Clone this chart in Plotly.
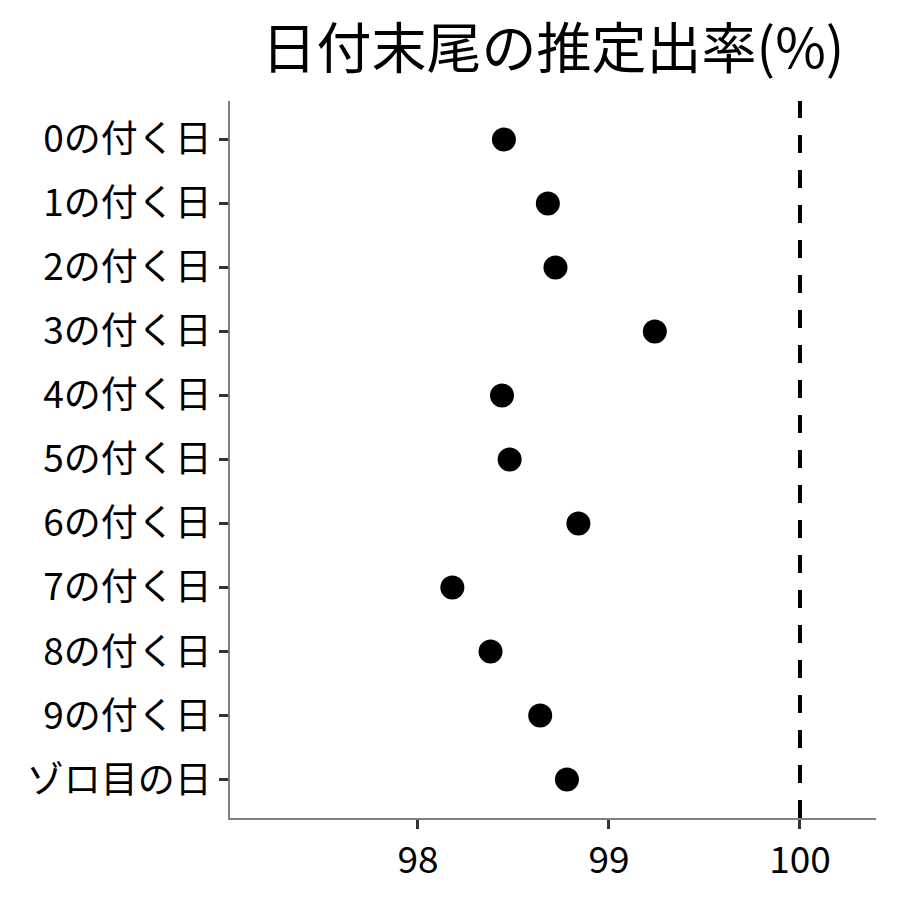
import plotly.graph_objects as go

categories = ["0の付く日", "1の付く日", "2の付く日", "3の付く日", "4の付く日",
              "5の付く日", "6の付く日", "7の付く日", "8の付く日", "9の付く日", "ゾロ目の日"]
rates = [98.45, 98.68, 98.72, 99.24, 98.44, 98.48, 98.84, 98.18, 98.38, 98.64, 98.78]
ref_value = 100
x_ticks = [98, 99, 100]

font_jp = "Noto Sans CJK JP"

fig = go.Figure()
fig.add_trace(go.Scatter(x=rates, y=categories, mode="markers",
                         marker=dict(color="black", size=24),
                         showlegend=False))

fig.add_shape(type="line", x0=ref_value, x1=ref_value, y0=0, y1=1,
              xref="x", yref="paper",
              line=dict(color="black", width=4, dash="18px,17px"))

# page body has ~8px margin, so margins are shifted to line up with the reference
fig.update_layout(
    width=900, height=900,
    plot_bgcolor="white", paper_bgcolor="white",
    margin=dict(l=222, r=32, t=93, b=90),
    title=dict(text="日付末尾の推定出率(%)", x=0.5, xref="paper", xanchor="center",
               y=0.955, yref="container", yanchor="middle",
               font=dict(family=font_jp, size=55, color="black")),
    font=dict(family=font_jp, color="black"),
)
fig.update_xaxes(range=[97.016, 100.398], tickvals=x_ticks,
                 showgrid=False, zeroline=False,
                 showline=True, linecolor="#7f7f7f", linewidth=1.5,
                 ticks="outside", ticklen=9, tickwidth=2.5, tickcolor="#333333",
                 tickfont=dict(family=font_jp, size=37, color="black"))
fig.update_yaxes(categoryorder="array", categoryarray=categories,
                 range=[10.6, -0.6],
                 showgrid=False, zeroline=False,
                 showline=True, linecolor="#7f7f7f", linewidth=1.5,
                 ticks="outside", ticklen=9, tickwidth=2.5, tickcolor="#333333",
                 tickfont=dict(family=font_jp, size=37, color="black"))

fig.write_html("out.html")
